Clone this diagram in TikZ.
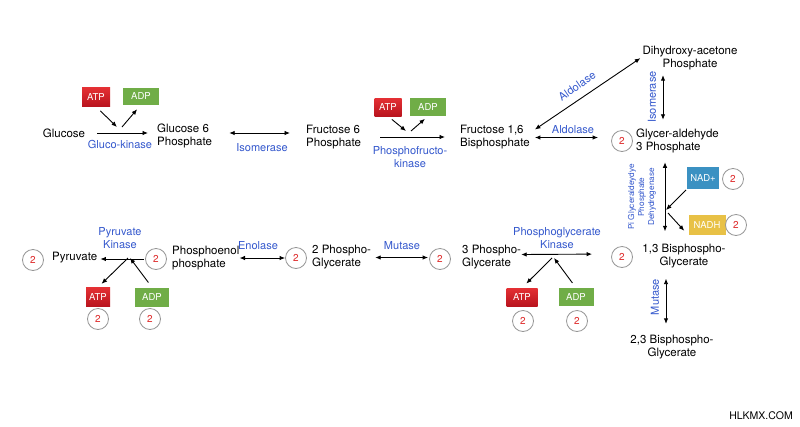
\documentclass[tikz,border=0pt]{standalone}
\usepackage{fontspec}
\setmainfont{TeX Gyre Heros}
\usetikzlibrary{arrows.meta,calc}
\definecolor{lblblue}{RGB}{52,88,205}
\definecolor{atptop}{RGB}{228,48,52}
\definecolor{atpbot}{RGB}{185,20,30}
\definecolor{adpgreen}{RGB}{112,173,71}
\definecolor{nadblue}{RGB}{59,145,194}
\definecolor{nadhyellow}{RGB}{232,193,70}
\definecolor{ringgray}{RGB}{150,150,150}
\definecolor{numred}{RGB}{222,40,40}
\begin{document}
\begin{tikzpicture}[x=1pt,y=-1pt,
 txt/.style={inner sep=0pt, font=\fontsize{11.5}{13}\selectfont, align=left},
 txtc/.style={txt, align=center},
 lbl/.style={inner sep=0pt, font=\fontsize{11}{13}\selectfont, text=lblblue, align=center},
 num/.style={circle, draw=ringgray, line width=0.8pt, minimum size=21pt, inner sep=0pt, text=numred, font=\fontsize{10}{12}\selectfont},
 cof/.style={inner sep=0pt, minimum height=19pt, text=white, font=\fontsize{9.5}{11}\selectfont},
 atpbox/.style={cof, top color=atptop, bottom color=atpbot, minimum width=28pt},
 adpbox/.style={cof, fill=adpgreen, minimum width=34pt},
 arr/.style={line width=0.9pt, -{Latex[length=5.5pt,width=4.5pt]}},
 dbl/.style={line width=0.9pt, {Latex[length=5.5pt,width=4.5pt]}-{Latex[length=5.5pt,width=4.5pt]}},
]
\fill[white] (0,0) rectangle (800,426);
\useasboundingbox (0,0) rectangle (800,426);

% metabolites
\node[txt] (glc) at (64,133) {Glucose};
\node[txt, anchor=west] (g6p) at (157,135.5) {Glucose 6\\Phosphate};
\node[txt, anchor=west] (f6p) at (306,137) {Fructose 6\\Phosphate};
\node[txt, anchor=west] (f16) at (460,137.5) {Fructose 1,6\\Bisphosphate};
\node[txtc] (dhap) at (690,58) {Dihydroxy-acetone\\Phosphate};
\node[num] (n1) at (622,141) {2};
\node[txt, anchor=west] (g3p) at (636,141) {Glycer-aldehyde\\3 Phosphate};
\node[num] (n2) at (622,257) {2};
\node[txtc] (bpg13) at (684,256.5) {1,3 Bisphospho-\\Glycerate};
\node[txtc] (bpg23) at (672,347) {2,3 Bisphospho-\\Glycerate};
\node[num] (n3) at (440,259) {2};
\node[txt, anchor=west] (pg3) at (462,257.5) {3 Phospho-\\Glycerate};
\node[num] (n4) at (296,258) {2};
\node[txt, anchor=west] (pg2) at (312,257.5) {2 Phospho-\\Glycerate};
\node[num] (n5) at (156,259) {2};
\node[txt, anchor=west] (pep) at (172,258) {Phosphoenol\\phosphate};
\node[num] (n6) at (33,260) {2};
\node[txt, anchor=west] (pyr) at (52,258) {Pyruvate};

% enzyme labels
\node[lbl] (gk) at (120,144) {Gluco-kinase};
\node[lbl] (iso1) at (262,148) {Isomerase};
\node[lbl] (pfk) at (410,157) {Phosphofructo-\\kinase};
\node[lbl] (ald1) at (573,130) {Aldolase};
\node[lbl, rotate=34.5] (ald2) at (577,86) {Aldolase};
\node[lbl, rotate=90] (iso2) at (652,97) {Isomerase};
\node[lbl, rotate=90, font=\fontsize{8.2}{10}\selectfont] (gapdh) at (642,197) {Pi Glyceraldeydye\\Phosphate\\Dehydrogenase};
\node[lbl, rotate=90] (mut2) at (655,297) {Mutase};
\node[lbl] (pk) at (120,238) {Pyruvate\\Kinase};
\node[lbl] (eno) at (258,246) {Enolase};
\node[lbl] (mut1) at (402,246) {Mutase};
\node[lbl] (pgk) at (557,238.5) {Phosphoglycerate\\Kinase};

% cofactors
\node[atpbox] (atp1) at (96,97) {ATP};
\node[adpbox, minimum width=36pt, minimum height=17pt] (adp1) at (141,96) {ADP};
\node[atpbox, minimum width=27pt, minimum height=18pt] (atp2) at (388,107) {ATP};
\node[adpbox, minimum width=36pt, minimum height=18pt] (adp2) at (428,107) {ADP};
\node[cof, fill=nadblue, minimum width=32pt, minimum height=22pt] (nad) at (703,178) {NAD+};
\node[num] (n7) at (733,179) {2};
\node[cof, fill=nadhyellow, minimum width=37pt, minimum height=20pt] (nadh) at (707,225) {NADH};
\node[num] (n8) at (736,225) {2};
\node[atpbox, minimum width=24pt] (atp3) at (98,297) {ATP};
\node[adpbox, minimum width=34pt] (adp3) at (152,297) {ADP};
\node[num] (n9) at (98,319) {2};
\node[num] (n10) at (150,319) {2};
\node[atpbox, minimum width=31pt, minimum height=18pt] (atp4) at (522,297) {ATP};
\node[adpbox, minimum width=35pt, minimum height=18pt] (adp4) at (576,297) {ADP};
\node[num] (n11) at (523,321) {2};
\node[num] (n12) at (577,321) {2};

\node[inner sep=0pt, font=\fontsize{10.5}{12}\selectfont] (wm) at (761,416) {HLKMX.COM};

% junction points
\coordinate (j1a) at (117,127);
\coordinate (j1b) at (122,127);
\coordinate (j2a) at (406,131);
\coordinate (j2b) at (411,131);
\coordinate (j3a) at (666,210);
\coordinate (j3b) at (668,213);
\coordinate (j4a) at (128,258);
\coordinate (j4b) at (130,258);
\coordinate (j5a) at (552,258);
\coordinate (j5b) at (554,258);

% connectors
\draw[arr, shorten <=12pt, shorten >=9pt] (glc.east) -- (glc.east -| g6p.west);
\draw[arr, shorten <=6pt] (atp1.south) -- (j1a);
\draw[arr, shorten >=6pt] (j1b) -- (adp1.south);
\draw[dbl, shorten <=17pt, shorten >=16pt] (glc.east -| g6p.east) -- (glc.east -| f6p.west);
\draw[arr, shorten <=19pt, shorten >=15pt] (f6p.east) -- (f6p.east -| f16.west);
\draw[arr, shorten <=5pt] (atp2.south) -- (j2a);
\draw[arr, shorten >=4pt] (j2b) -- (adp2.south);
\draw[dbl, shorten <=5pt, shorten >=13pt] (f16.east) -- (f16.east -| n1.west);
\draw[dbl] ($(f16.east)+(5,-8)$) -- ($(dhap.south west)+(-2,-12)$);
\draw[dbl] ($(dhap.south)+(-27,5)$) -- ($(g3p.north west)+(27,-9)$);
\draw[dbl] ($(g3p.south west)+(29,9)$) -- ($(bpg13.north)+(-19,-13)$);
\draw[arr, shorten <=1pt] (nad.south west) -- (j3a);
\draw[arr, shorten >=6pt] (j3b) -- (nadh.south west);
\draw[dbl] ($(bpg13.south)+(-18,10)$) -- ($(bpg23.north)+(-6,-11)$);
\draw[dbl, shorten >=19pt] ($(pg3.east)+(0,-3)$) -- ($(n2.west)+(0,-3)$);
\draw[arr, shorten >=6pt] (j5a) -- (atp4.north);
\draw[arr, shorten <=6pt] (adp4.north) -- (j5b);
\draw[dbl, shorten <=4pt, shorten >=1pt] (pg2.east) -- (pg2.east -| n3.west);
\draw[dbl] (pep.east) -- (pep.east -| n4.west);
\draw[arr, shorten <=1pt, shorten >=3pt] (n5.west) -- (n5.west -| pyr.east);
\draw[arr, shorten >=5pt] (j4a) -- (atp3.north);
\draw[arr, shorten <=6pt] (adp3.north) -- (j4b);
\end{tikzpicture}
\end{document}
